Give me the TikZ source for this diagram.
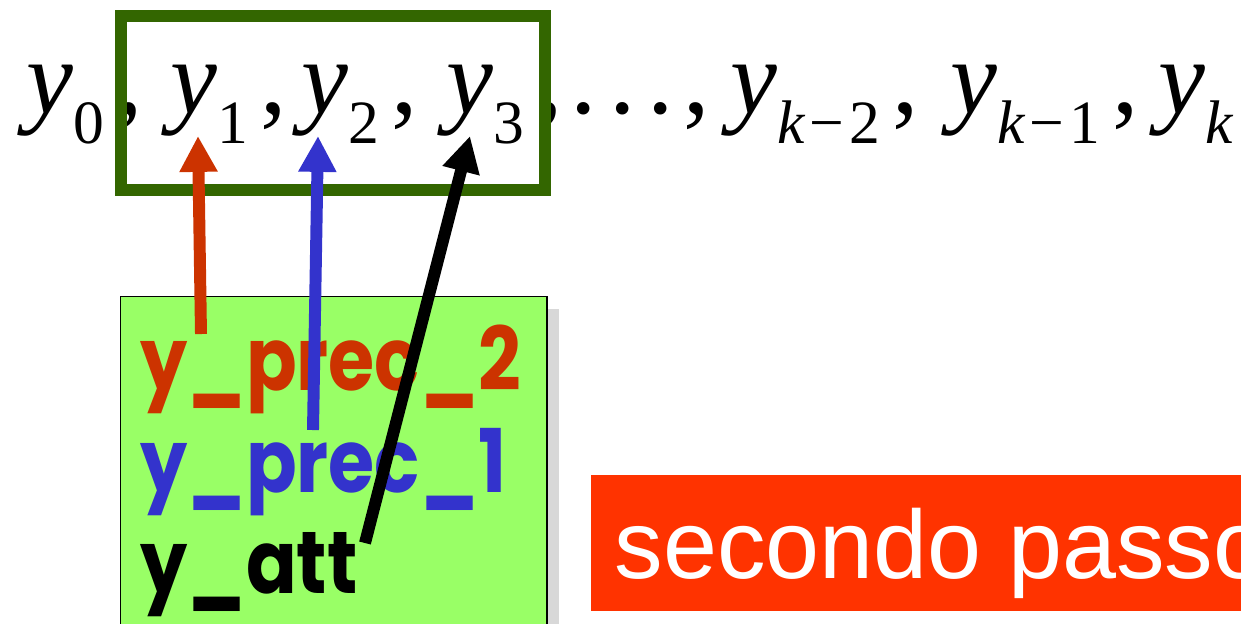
\documentclass[tikz,border=0pt]{standalone}
\usepackage{fontspec}
\setmainfont{Liberation Serif}
\setsansfont{Liberation Sans}
\newfontfamily\comicfont{Poppins}
\usetikzlibrary{arrows.meta,calc,shadows}

\definecolor{framegreen}{HTML}{336600}
\definecolor{buffergreen}{HTML}{99FF66}
\definecolor{precred}{HTML}{CC3300}
\definecolor{precblue}{HTML}{3333CC}
\definecolor{passored}{HTML}{FF3300}

\newcommand\yterm[1]{\textit{y}\raisebox{-0.3cm}{\fontsize{17.5}{18}\selectfont #1}}
\newcommand\sep{\hspace{0.12cm},}
\newcommand\minus{\hspace{0.04cm}−\hspace{0.05cm}}
\newcommand\squeeze[1]{\scalebox{0.85}[1]{#1}}

\begin{document}
\begin{tikzpicture}[
      x=0.01cm, y=-0.01cm,
      term/.style={anchor=base west, inner sep=0pt,
                   font=\fontsize{30}{32}\selectfont},
      line/.style={anchor=base west, inner sep=0pt,
                   font=\comicfont\bfseries\fontsize{25}{30}\selectfont},
      buffer/.style={draw=black, line width=.4pt, fill=buffergreen,
                     minimum width=4.26cm, minimum height=4cm,
                     drop shadow={fill=black!30, shadow xshift=.12cm, shadow yshift=-.12cm}},
      frame/.style={draw=framegreen, line width=3.4pt},
      ptr/.style={line width=3.4pt, -{Triangle[width=10.2pt, length=10.2pt]}},
      tag/.style={fill=passored, text=white, inner xsep=.24cm, inner ysep=0pt,
                  text height=1.04cm, text depth=.32cm,
                  font=\sffamily\fontsize{27.6}{30}\selectfont}
    ]
    \useasboundingbox (0,0) rectangle (1241,623);

    % Sequence of outputs.
    \node[term] (y0) at (26,113) {\yterm{0}\sep};
    \node[term] (y1) at (170,113) {\yterm{1}\sep};
    \node[term] (y2) at (301,113) {\yterm{2}\sep};
    \node[term] (y3) at (446,113) {\yterm{3}\sep};
    \node[term] (dots) at (570,113)
      {.\hspace{0.12cm}.\hspace{0.12cm}.\hspace{0.1cm},};
    \node[term] (yk2) at (730,113) {\yterm{\textit{k}\minus2}\sep};
    \node[term] (yk1) at (950,113) {\yterm{\textit{k}\minus1}\sep};
    \node[term] (yk) at (1158,113) {\yterm{\textit{k}}};

    % Window over y_1 .. y_3.
    \draw[frame] (121,16) rectangle (545,190);

    % Variables of the step.
    \node[buffer, anchor=north west] (buf) at (120,296) {};
    \node[line, text=precred] (prec2) at (140,390) {\squeeze{y\_prec\_2}};
    \node[line, text=precblue] (prec1) at (140,492) {\squeeze{y\_prec\_1}};
    \node[line, text=black] (att) at (140,593) {\squeeze{y\_att}};

    \draw[ptr, precred] ($(prec2.base west)+(61,-56)$) -- ($(y1.base west)+(28,23)$);
    \draw[ptr, precblue] ($(prec1.base west)+(173,-62)$) -- ($(y2.base west)+(17,23)$);
    \draw[ptr, black] ($(att.base west)+(225,-50)$) -- ($(y3.base west)+(24,23)$);

    \node[tag, anchor=north west] (passo) at (590,474) {secondo passo};
  \end{tikzpicture}
\end{document}
